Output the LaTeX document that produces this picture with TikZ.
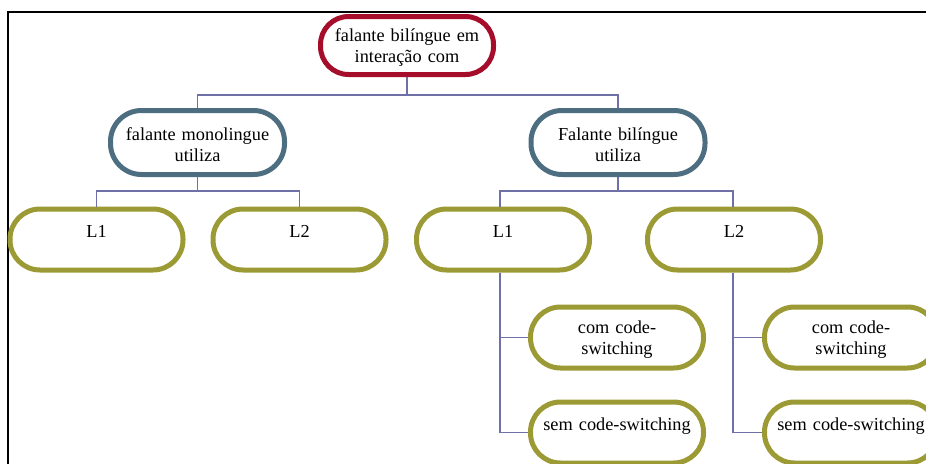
\documentclass[tikz,border=0pt]{standalone}
\usepackage{fontspec}
\setmainfont{Liberation Serif}
\usetikzlibrary{positioning}
\definecolor{rootred}{HTML}{A50D2B}
\definecolor{slateblue}{HTML}{4D6D80}
\definecolor{leafolive}{HTML}{9B9A34}
\definecolor{linkblue}{HTML}{7070A8}

\begin{document}
\begin{tikzpicture}[x=1pt, y=-1pt, node distance=25pt,
      box/.style={draw, line width=5pt, fill=white, text width=166pt, align=center, inner sep=0pt,
                  font=\fontsize{18.3}{21}\selectfont, execute at end node={\endgraf\vspace*{-5pt}}},
      topbox/.style={box, draw=rootred, minimum width=173pt, minimum height=58pt, rounded corners=28pt},
      midbox/.style={box, draw=slateblue, minimum width=174pt, minimum height=64pt, rounded corners=31pt},
      leafbox/.style={box, draw=leafolive, minimum width=173pt, minimum height=61pt, rounded corners=30pt},
      conn/.style={linkblue, line width=1.7pt}]
    \useasboundingbox (0,0) rectangle (926,463);
    \clip (0,0) rectangle (926,463);
    \draw[line width=2pt] (8,475) -- (8,12) -- (940,12);
    % tree
    \node[topbox] (root) at (407,45.5) {falante bilíngue em\\interação com};
    \node[midbox] (mono) at (197.5,142.5) {falante monolingue\\utiliza};
    \node[midbox] (bil) at (618,142.5) {Falante bilíngue\\utiliza};
    \node[leafbox] (monoL1) at (96.5,239.5) {L1\\\mbox{}};
    \node[leafbox, right=of monoL1] (monoL2) {L2\\\mbox{}};
    \node[leafbox] (bilL1) at (503,239.5) {L1\\\mbox{}};
    \node[leafbox, right=53pt of bilL1] (bilL2) {L2\\\mbox{}};
    \node[leafbox] (bilL1com) at (617,337.5) {com code-\\switching};
    \node[leafbox, below=29pt of bilL1com] (bilL1sem) {sem code-switching\\\mbox{}};
    \node[leafbox] (bilL2com) at (851,337.5) {com code-\\switching};
    \node[leafbox, below=29pt of bilL2com] (bilL2sem) {sem code-switching\\\mbox{}};
    % links
    \draw[conn] (root.south) -- ++(0,18) -| (mono.north);
    \draw[conn] (root.south) -- ++(0,18) -| (bil.north);
    \draw[conn] (mono.south) -- ++(0,14) -| (monoL1.north);
    \draw[conn] (mono.south) -- ++(0,14) -| (monoL2.north);
    \draw[conn] (bil.south) -- ++(0,14) -| ([xshift=-3pt]bilL1.north);
    \draw[conn] (bil.south) -- ++(0,14) -| ([xshift=-1pt]bilL2.north);
    \draw[conn] ([xshift=-3pt]bilL1.south) |- (bilL1com.west);
    \draw[conn] ([xshift=-3pt]bilL1.south) |- (bilL1sem.west);
    \draw[conn] ([xshift=-1pt]bilL2.south) |- (bilL2com.west);
    \draw[conn] ([xshift=-1pt]bilL2.south) |- (bilL2sem.west);
\end{tikzpicture}
\end{document}
